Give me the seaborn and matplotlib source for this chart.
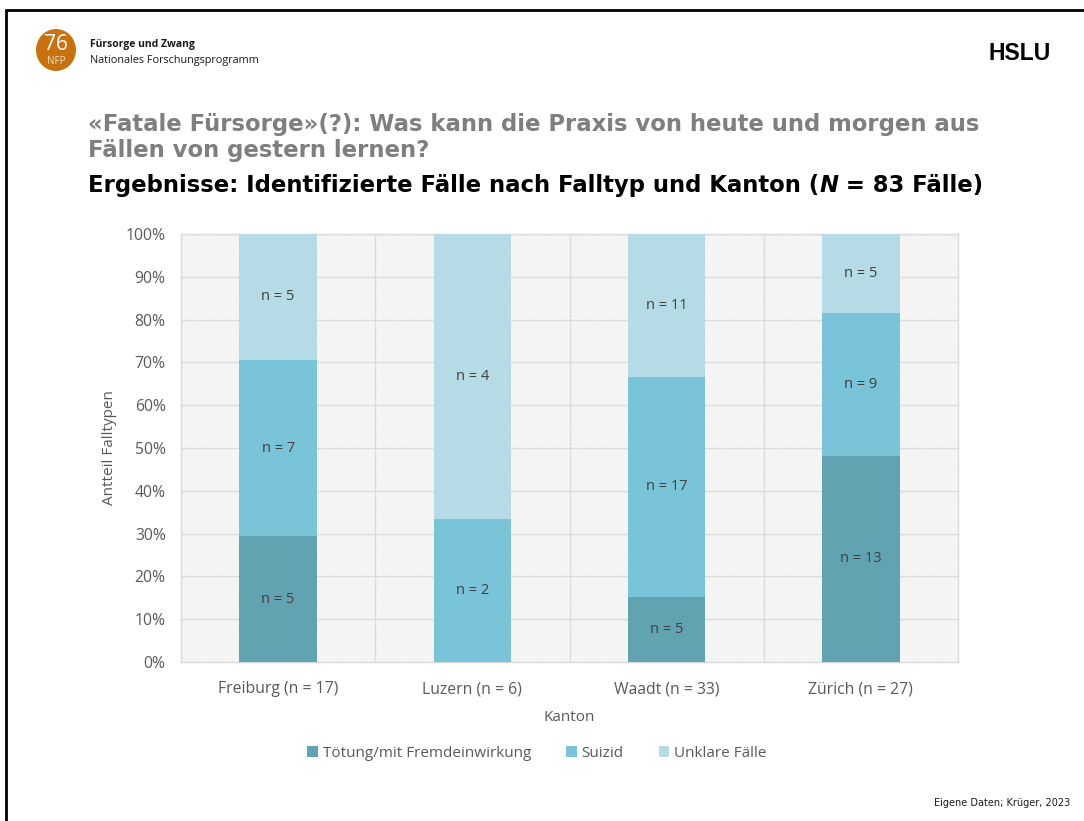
import matplotlib
matplotlib.use("Agg")
import matplotlib.pyplot as plt
import seaborn as sns
import pandas as pd
import numpy as np
from matplotlib.patches import Rectangle, Ellipse, Patch
from matplotlib.lines import Line2D
from matplotlib.ticker import PercentFormatter, MultipleLocator

# ---------------- data ----------------
cantons = ["Freiburg (n = 17)", "Luzern (n = 6)", "Waadt (n = 33)", "Zürich (n = 27)"]
toetung = [5, 0, 5, 13]
suizid = [7, 2, 17, 9]
unklar = [5, 4, 11, 5]
series_names = ["Tötung/mit Fremdeinwirkung", "Suizid", "Unklare Fälle"]
colors = ["#62A3B2", "#79C4D8", "#B5DCE6"]

sns.set_theme(style="white")
plt.rcParams["font.family"] = ["Open Sans", "DejaVu Sans"]
plt.rcParams["hatch.linewidth"] = 0.45

df = pd.DataFrame({"Kanton": cantons, series_names[0]: toetung,
                   series_names[1]: suizid, series_names[2]: unklar})
counts = df[series_names].to_numpy(dtype=float)
totals = counts.sum(axis=1, keepdims=True)
shares = counts / totals * 100
cum = np.cumsum(shares, axis=1)

fig = plt.figure(figsize=(10.84, 8.21), dpi=100)
ax = fig.add_axes([181 / 1084, 159 / 821, 777 / 1084, 428 / 821])

# hatched background
bg = Rectangle((0, 0), 1, 1, transform=ax.transAxes, facecolor="white",
               edgecolor="#EAEAEA", hatch="\\" * 18, linewidth=0, zorder=0)
ax.add_patch(bg)

# stacked bars (overlay cumulative values, top series first)
plot_df = pd.DataFrame({"Kanton": cantons})
for i in range(2, -1, -1):
    plot_df["val"] = cum[:, i]
    sns.barplot(data=plot_df, x="Kanton", y="val", color=colors[i],
                width=0.4, saturation=1, ax=ax, zorder=3, linewidth=0)

# segment labels
for j in range(len(cantons)):
    for i in range(3):
        if counts[j, i] > 0:
            lo = cum[j, i] - shares[j, i]
            ax.text(j, (lo + cum[j, i]) / 2, f"n = {int(counts[j, i])}",
                    ha="center", va="center", fontsize=10.5, color="#404040", zorder=5)

ax.set_xlim(-0.5, 3.5)
ax.set_ylim(0, 100)
ax.yaxis.set_major_locator(MultipleLocator(10))
ax.yaxis.set_major_formatter(PercentFormatter(decimals=0))
for y in range(10, 101, 10):
    ax.axhline(y, color="#DCDCDC", lw=1, zorder=1)
for x in [0.5, 1.5, 2.5]:
    ax.axvline(x, color="#DCDCDC", lw=1, zorder=1)
for s in ax.spines.values():
    s.set_color("#D9D9D9")
    s.set_linewidth(1)
ax.tick_params(axis="both", length=0, labelsize=11.3, labelcolor="#595959")
ax.tick_params(axis="y", pad=11)
ax.tick_params(axis="x", pad=14)
ax.set_xlabel("Kanton", fontsize=11, color="#595959", labelpad=9)
ax.set_ylabel("Antteil Falltypen", fontsize=11, color="#595959", labelpad=6)

# legend
handles = [Patch(facecolor=c, edgecolor="none") for c in colors]
fig.legend(handles, series_names, loc="center", bbox_to_anchor=(537 / 1084, 1 - 753 / 821),
           ncol=3, frameon=False, fontsize=11, labelcolor="#595959",
           handlelength=0.7, handleheight=0.7, handletextpad=0.3, columnspacing=2.3)

# titles
gray = "#7F7F7F"
fs_t = 16.4
fig.text(88 / 1084, 1 - 125 / 821, "«Fatale Fürsorge»(?): Was kann die Praxis von heute und morgen aus",
         fontsize=fs_t, fontweight="bold", color=gray, family="DejaVu Sans", va="center")
fig.text(88 / 1084, 1 - 150 / 821, "Fällen von gestern lernen?",
         fontsize=fs_t, fontweight="bold", color=gray, family="DejaVu Sans", va="center")
t1 = fig.text(88 / 1084, 1 - 185 / 821, "Ergebnisse: Identifizierte Fälle nach Falltyp und Kanton (",
              fontsize=fs_t, fontweight="bold", color="black", family="DejaVu Sans", va="center")
a2 = plt.annotate("N", xy=(1, 0), xycoords=t1, va="bottom", ha="left", fontsize=fs_t,
                  fontweight="bold", fontstyle="italic", color="black", family="DejaVu Sans",
                  annotation_clip=False)
plt.annotate(" = 83 Fälle)", xy=(1, 0), xycoords=a2, va="bottom", ha="left", fontsize=fs_t,
             fontweight="bold", color="black", family="DejaVu Sans", annotation_clip=False)

# header logo
logo = Ellipse((56 / 1084, 1 - 50 / 821), 40 / 1084, 42 / 821, transform=fig.transFigure,
               facecolor="#C8720F", edgecolor="none")
fig.patches.append(logo)
fig.text(56 / 1084, 1 - 44 / 821, "76", fontsize=15, color="white", ha="center", va="center")
fig.text(56 / 1084, 1 - 62 / 821, "NFP", fontsize=7, color="#F3DFC6", ha="center", va="center")
fig.text(90 / 1084, 1 - 45 / 821, "Fürsorge und Zwang", fontsize=7.5, fontweight="bold",
         color="#1A1A1A", va="center")
fig.text(90 / 1084, 1 - 61 / 821, "Nationales Forschungsprogramm", fontsize=7.8,
         color="#1A1A1A", va="center")
fig.text(1051 / 1084, 1 - 54 / 821, "HSLU", fontsize=16.5, fontweight="bold",
         family="Liberation Sans", color="black", ha="right", va="center")

# footer
fig.text(1070 / 1084, 1 - 803 / 821, "Eigene Daten; Krüger, 2023", fontsize=7,
         family="DejaVu Sans", color="#1A1A1A", ha="right", va="center")

# frame lines
fig.lines.append(Line2D([6 / 1084, 1], [1 - 10 / 821, 1 - 10 / 821], transform=fig.transFigure,
                        color="black", lw=2))
fig.lines.append(Line2D([6 / 1084, 6 / 1084], [0, 1 - 10 / 821], transform=fig.transFigure,
                        color="black", lw=2))

fig.savefig("out.png", dpi=100)
